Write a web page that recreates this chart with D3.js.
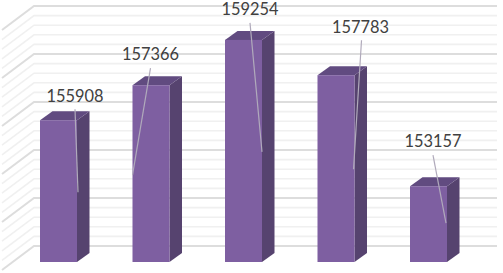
<!DOCTYPE html>
<html>
<head>
<meta charset="utf-8">
<script src="https://cdn.jsdelivr.net/npm/d3@7"></script>
<style>
  html, body { margin: 0; padding: 0; background: #fff; }
  svg { display: block; }
</style>
</head>
<body>
<svg id="chart" width="503" height="273"></svg>
<script>
// values
const categories = ['A', 'B', 'C', 'D', 'E'];
const values = [155908, 157366, 159254, 157783, 153157];

// 3d look of the column chart
const DEPTH_X = 12.5, DEPTH_Y = 9;    // bar depth
const FLOOR_Y = 16;                   // bar front base, below the back wall base
const WALL_L = 34, WALL_R = 497;
const SIDE_X = 32, SIDE_Y = 24;       // slant of the left wall

// label centre + leader line, relative to the bar front top-left corner
const labelLayout = [
  { tx: 35, ty: -18, x1: 35, y1: -11, x2: 38, y2: 72 },
  { tx: 18, ty: -25, x1: 18, y1: -17, x2: 0, y2: 90 },
  { tx: 25, ty: -25, x1: 25, y1: -17, x2: 37, y2: 112 },
  { tx: 43, ty: -42, x1: 44, y1: -35, x2: 36, y2: 94 },
  { tx: 23, ty: -39, x1: 23, y1: -31, x2: 36, y2: 37 }
];

const svg = d3.select('#chart');

const y = d3.scaleLinear().domain([150000, 160000]).range([246, 6]);
const x = d3.scaleBand().domain(categories)
  .range([12.25, 474.75]).paddingInner(0.6).paddingOuter(0.3);

// ---------------------------------------------------------------------------
// Gridlines: 2000 major, 400 minor
// ---------------------------------------------------------------------------

const gridVals = d3.range(150000, 160001, 400);
const isMajor = v => (v - 150000) % 2000 === 0;

const grid = svg.append('g');
grid.selectAll('path')
  .data(gridVals)
  .join('path')
  .attr('fill', 'none')
  .attr('stroke', v => isMajor(v) ? '#dddddd' : '#f0f0f0')
  .attr('stroke-width', v => isMajor(v) ? 2 : 1.6)
  .attr('d', v => d3.line()([
    [WALL_L - SIDE_X, y(v) + SIDE_Y],
    [WALL_L, y(v)],
    [WALL_R, y(v)]
  ]));

// ---------------------------------------------------------------------------
// Bars
// ---------------------------------------------------------------------------

const base = y(150000) + FLOOR_Y;
const bw = x.bandwidth();

const bars = svg.selectAll('.bar')
  .data(categories)
  .join('g')
  .classed('bar', true)
  .attr('transform', (c, i) => `translate(${x(c)},${y(values[i]) + FLOOR_Y})`);

const barH = i => base - (y(values[i]) + FLOOR_Y);

// side
bars.append('path')
  .attr('fill', '#56436f')
  .attr('d', (c, i) => d3.line()([
    [bw, 0], [bw + DEPTH_X, -DEPTH_Y], [bw + DEPTH_X, barH(i) - DEPTH_Y], [bw, barH(i)]
  ]) + 'Z');

// top
bars.append('path')
  .attr('fill', '#614b80')
  .attr('d', d3.line()([
    [0, 0], [DEPTH_X, -DEPTH_Y], [bw + DEPTH_X, -DEPTH_Y], [bw, 0]
  ]) + 'Z');

// front
bars.append('rect')
  .attr('fill', '#7e5fa1')
  .attr('width', bw)
  .attr('height', (c, i) => barH(i));

// ---------------------------------------------------------------------------
// Leader lines and labels
// ---------------------------------------------------------------------------

bars.append('line')
  .attr('stroke', '#b0aabb')
  .attr('stroke-width', 1.2)
  .attr('x1', (c, i) => labelLayout[i].x1)
  .attr('y1', (c, i) => labelLayout[i].y1)
  .attr('x2', (c, i) => labelLayout[i].x2)
  .attr('y2', (c, i) => labelLayout[i].y2);

// Lato is wider than the original face, so squeeze it to the same run length
bars.append('text')
  .attr('x', (c, i) => labelLayout[i].tx)
  .attr('y', (c, i) => labelLayout[i].ty)
  .attr('text-anchor', 'middle')
  .attr('font-family', 'Lato, "Open Sans", sans-serif')
  .attr('font-size', 18)
  .attr('textLength', 57)
  .attr('lengthAdjust', 'spacingAndGlyphs')
  .attr('fill', '#404040')
  .text((c, i) => values[i]);
</script>
</body>
</html>
